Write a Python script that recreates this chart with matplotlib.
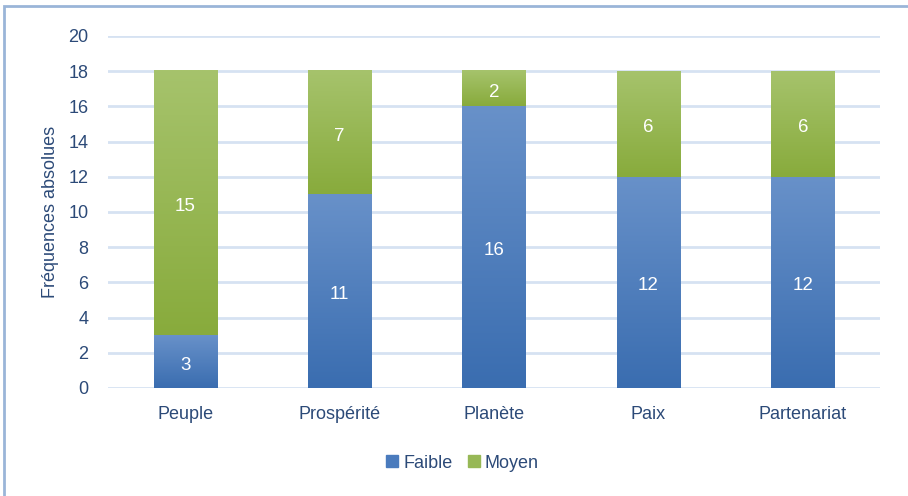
import numpy as np
import matplotlib
matplotlib.use("Agg")
import matplotlib.pyplot as plt
from matplotlib.colors import LinearSegmentedColormap
from matplotlib.patches import Rectangle
from matplotlib.lines import Line2D

plt.rcParams['font.family'] = ['Liberation Sans', 'DejaVu Sans']

# ── Data ──────────────────────────────────────────────────────────────────────
categories = ["Peuple", "Prospérité", "Planète", "Paix", "Partenariat"]
faible = [3, 11, 16, 12, 12]
moyen = [15, 7, 2, 6, 6]
series_names = ["Faible", "Moyen"]

TXT = "#2c4a78"
GRID = "#d6e2f2"
blue_cmap = LinearSegmentedColormap.from_list("b", ["#3a6db0", "#6891c9"])
green_cmap = LinearSegmentedColormap.from_list("g", ["#88ab3c", "#a6c36c"])

fig = plt.figure(figsize=(9.08, 4.96), dpi=100)
ax = fig.add_axes([108 / 908, 1 - 388 / 496, (880 - 108) / 908, (388 - 36) / 496])

x = np.arange(len(categories))
width = 0.41
grad = np.linspace(0, 1, 256).reshape(-1, 1)

def gradient_bar(xc, bottom, height, cmap):
    ax.imshow(grad, cmap=cmap, origin="lower", aspect="auto", zorder=2,
              extent=[xc - width / 2, xc + width / 2, bottom, bottom + height])

for i, xc in enumerate(x):
    gradient_bar(xc, 0, faible[i], blue_cmap)
    gradient_bar(xc, faible[i], moyen[i], green_cmap)
    ax.text(xc, faible[i] / 2 - 0.2, str(faible[i]), ha="center", va="center",
            color="white", fontsize=13.5, zorder=3)
    ax.text(xc, faible[i] + moyen[i] / 2 - 0.2, str(moyen[i]), ha="center", va="center",
            color="white", fontsize=13.5, zorder=3)

ax.set_xlim(-0.5, len(categories) - 0.5)
ax.set_ylim(0, 20)
ax.set_yticks(range(0, 21, 2))
ax.set_xticks(x)
ax.set_xticklabels(categories)
ax.tick_params(axis="both", length=0, labelsize=13, labelcolor=TXT)
ax.tick_params(axis="x", pad=13)
ax.tick_params(axis="y", pad=14)
ax.yaxis.grid(True, color=GRID, linewidth=2)
ax.set_axisbelow(True)
for s in ax.spines.values():
    s.set_visible(False)
ax.set_ylabel("Fréquences absolues", fontsize=13, color=TXT, labelpad=7)

handles = [Line2D([], [], marker="s", linestyle="none", markersize=9,
                  markerfacecolor=c, markeredgecolor=c)
           for c in ["#4a7bbd", "#97b856"]]
fig.legend(handles, series_names, loc="center", bbox_to_anchor=(462 / 908, 1 - 463 / 496),
           ncol=2, frameon=False, fontsize=13, labelcolor=TXT,
           handlelength=0.8, handletextpad=0.2, columnspacing=0.8)

fig.patches.append(Rectangle((4 / 908, -0.1), 1, 1.1 - 6 / 496, transform=fig.transFigure,
                             fill=False, edgecolor="#9ab5d8", linewidth=2))

plt.savefig("out.png", dpi=100)
